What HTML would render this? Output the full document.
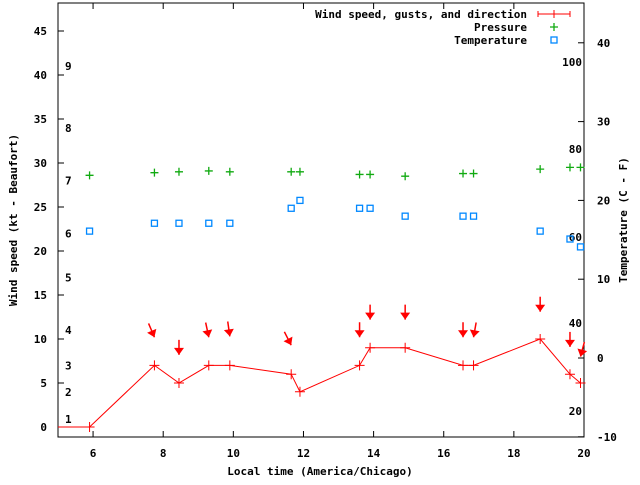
<!DOCTYPE html>
<html><head><meta charset="utf-8"><style>
body{margin:0;background:#fff}
svg text{font-family:"DejaVu Sans Mono","Liberation Mono",monospace;font-size:11px;font-weight:bold;fill:#000}
</style></head><body>
<svg id="c" width="640" height="480" xmlns="http://www.w3.org/2000/svg"></svg>
<script>
const times=[5.0,5.9,7.75,8.45,9.3,9.9,11.65,11.9,13.6,13.9,14.9,16.55,16.85,18.75,19.6,19.9];
const windSpeed=[0,0,7,5,7,7,6,4,7,9,9,7,7,10,6,5];
const ptTimes=[5.9,7.75,8.45,9.3,9.9,11.65,11.9,13.6,13.9,14.9,16.55,16.85,18.75,19.6,19.9];
const pressure=[28.6,28.9,29.0,29.1,29.0,29.0,29.0,28.7,28.7,28.5,28.8,28.8,29.3,29.5,29.5];
const temperature=[16.1,17.1,17.1,17.1,17.1,19,20,19,19,18,18,18,16.1,15.1,14.1];
const arrowTimes=[7.75,8.45,9.3,9.9,11.65,13.6,13.9,14.9,16.55,16.85,18.75,19.6,19.9];
const arrowVal=[10.2,8.2,10.2,10.3,9.3,10.2,12.2,12.2,10.2,10.2,13.1,9.1,8.0];
const arrowDir=[23,0,12,8,27,0,0,0,0,-10,0,0,-15];
const xTicks=[6,8,10,12,14,16,18,20];
const yTicks=[0,5,10,15,20,25,30,35,40,45];
const y2Ticks=[-10,0,10,20,30,40];
const beaufort=[["1",0.9],["2",4],["3",7],["4",11],["5",17],["6",22],["7",28],["8",34],["9",41]];
const humidity=[["100",41.5],["80",31.6],["60",21.6],["40",11.8],["20",1.8]];

const L=58,R=584,T=3,B=437;
const X=t=>L+(t-5)/15*(R-L);
const Y=v=>427-v*8.8;
const Y2=v=>358-v*7.88;
const svg=document.getElementById('c');
const NS='http://www.w3.org/2000/svg';
function mk(tag,attrs,parent){const e=document.createElementNS(NS,tag);for(const k in attrs)e.setAttribute(k,attrs[k]);(parent||svg).appendChild(e);return e;}
function txt(s,x,y,anchor){const e=mk('text',{x:x,y:y,'text-anchor':anchor||'start'});e.textContent=s;return e;}

const frame=mk('rect',{x:L,y:T,width:R-L,height:B-T,fill:'none',stroke:'#000','stroke-width':1});


xTicks.forEach(t=>{const x=X(t);
 mk('line',{x1:x,y1:B,x2:x,y2:B-6,stroke:'#000'});mk('line',{x1:x,y1:T,x2:x,y2:T+6,stroke:'#000'});
 const e=txt(String(t),x,457,'middle');
 
 });
yTicks.forEach(v=>{const y=Y(v);mk('line',{x1:L,y1:y,x2:L+6,y2:y,stroke:'#000'});
 const e=txt(String(v),47,y+4,'end');
 
 });
y2Ticks.forEach(v=>{const y=Y2(v);mk('line',{x1:R,y1:y,x2:R-6,y2:y,stroke:'#000'});
 const e=txt(String(v),597,y+4,'start');
 
 });
beaufort.forEach(b=>{const e=txt(b[0],65,Y(b[1])+4,'start');
 
 });
humidity.forEach(h=>{const e=txt(h[0],582,Y(h[1])+4,'end');
 
 });

let xt=txt('Local time (America/Chicago)',320,475,'middle');


let yt=txt('Wind speed (kt - Beaufort)',0,0,'middle');yt.setAttribute('transform','translate(17,220) rotate(-90)');


let y2t=txt('Temperature (C - F)',0,0,'middle');y2t.setAttribute('transform','translate(627,220) rotate(-90)');



// wind line
const pts=times.map((t,i)=>X(t)+','+Y(windSpeed[i])).join(' ');
const wl=mk('polyline',{points:pts,fill:'none',stroke:'#f00','stroke-width':1});


times.forEach((t,i)=>{if(i===0)return;const x=X(t),y=Y(windSpeed[i]);
 const g=mk('path',{d:`M${x-5},${y}H${x+5}M${x},${y-5}V${y+5}`,stroke:'#f00','stroke-width':1});
 
 });
// arrows
arrowTimes.forEach((t,i)=>{const tx=X(t),ty=Y(arrowVal[i]);const a=arrowDir[i]*Math.PI/180;
 const dx=Math.sin(a),dy=Math.cos(a);const len=15;
 const g=mk('g',{});
 
 
 mk('line',{x1:tx-dx*len,y1:ty-dy*len,x2:tx,y2:ty,stroke:'#f00','stroke-width':1.5},g);
 const px=-dy,py=dx;const hb=7;
 mk('polygon',{points:`${tx},${ty} ${tx-dx*hb+px*5},${ty-dy*hb+py*5} ${tx-dx*hb-px*5},${ty-dy*hb-py*5}`,fill:'#f00'},g);});
// pressure
ptTimes.forEach((t,i)=>{const x=X(t),y=Y(pressure[i]);
 const p=mk('path',{d:`M${x-4},${y}H${x+4}M${x},${y-4}V${y+4}`,stroke:'#1a1','stroke-width':1.3});
 
 });
// temperature
ptTimes.forEach((t,i)=>{const x=X(t),y=Y2(temperature[i]);
 const r=mk('rect',{x:x-3,y:y-3,width:6,height:6,fill:'none',stroke:'#08f','stroke-width':1.3});
 
 });
// legend
const lg=mk('g',{});


const l1=txt('Wind speed, gusts, and direction',527,18,'end');lg.appendChild(l1);
mk('path',{d:'M538,14H570M538,11V17M570,11V17M554,10V18',stroke:'#f00'},lg);
const l2=txt('Pressure',527,31,'end');lg.appendChild(l2);
mk('path',{d:'M550,27H558M554,23V31',stroke:'#1a1','stroke-width':1.3},lg);
const l3=txt('Temperature',527,44,'end');lg.appendChild(l3);
mk('rect',{x:551,y:37,width:6,height:6,fill:'none',stroke:'#08f','stroke-width':1.3},lg);
</script>
</body></html>
